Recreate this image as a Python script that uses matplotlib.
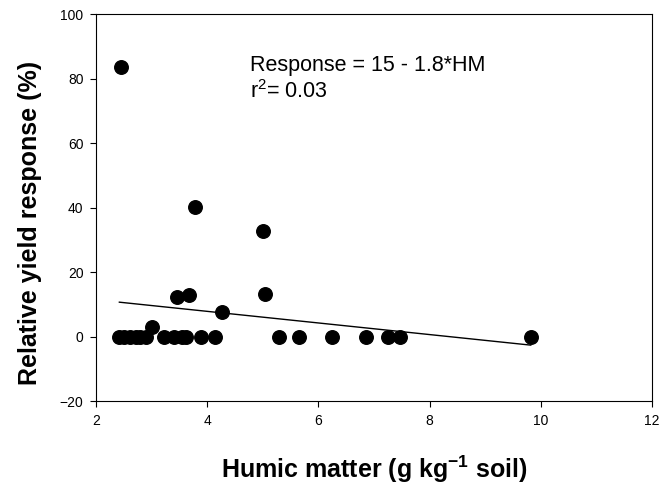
import matplotlib
matplotlib.use("Agg")
import matplotlib.pyplot as plt
import numpy as np

plt.rcParams['font.family'] = ['Liberation Sans', 'DejaVu Sans']
plt.rcParams['mathtext.fontset'] = 'custom'
plt.rcParams['mathtext.rm'] = 'Liberation Sans'
plt.rcParams['mathtext.bf'] = 'Liberation Sans:bold'

# Data (humic matter g/kg, relative yield response %)
humic = [2.45, 2.42, 2.50, 2.62, 2.72, 2.80, 2.90, 3.00, 3.22, 3.40, 3.46, 3.55, 3.62,
         3.68, 3.78, 3.88, 4.14, 4.27, 5.00, 5.04, 5.29, 5.65, 6.24, 6.86, 7.25, 7.47, 9.82]
response = [83.7, 0, 0, 0, 0, 0, 0, 2.8, 0, 0, 12.2, 0, 0,
            12.9, 40.3, 0, 0, 7.5, 32.7, 13.1, 0, 0, 0, 0, 0, 0, 0]
intercept = 15.0
slope = -1.8
xticks = [2, 4, 6, 8, 10, 12]
yticks = [-20, 0, 20, 40, 60, 80, 100]

fig = plt.figure(figsize=(6.63, 4.93), dpi=100)
ax = fig.add_axes([0.1448, 0.1866, 0.8386, 0.785])

ax.scatter(humic, response, s=95, color='black', zorder=3)
xl = np.array([min(humic), max(humic)])
ax.plot(xl, intercept + slope * xl, color='black', lw=1.0, zorder=2)

ax.set_xlim(2, 12)
ax.set_ylim(-20, 100)
ax.set_xticks(xticks)
ax.set_yticks(yticks)
ax.tick_params(direction='out', length=4, width=0.8, labelsize=10, pad=5)
for sp in ax.spines.values():
    sp.set_linewidth(0.8)

ax.set_xlabel(r'Humic matter (g kg$^{\mathbf{-1}}$ soil)', fontsize=18, fontweight='bold', labelpad=19)
ax.set_ylabel('Relative yield response (%)', fontsize=18, fontweight='bold')
ax.yaxis.set_label_coords(-0.097, 0.46)

ax.text(4.77, 83.9, 'Response = 15 - 1.8*HM', fontsize=15.5, va='center', ha='left')
ax.text(4.77, 75.8, r'r$^{2}$= 0.03', fontsize=15.5, va='center', ha='left')

fig.savefig('out.png', dpi=100)
